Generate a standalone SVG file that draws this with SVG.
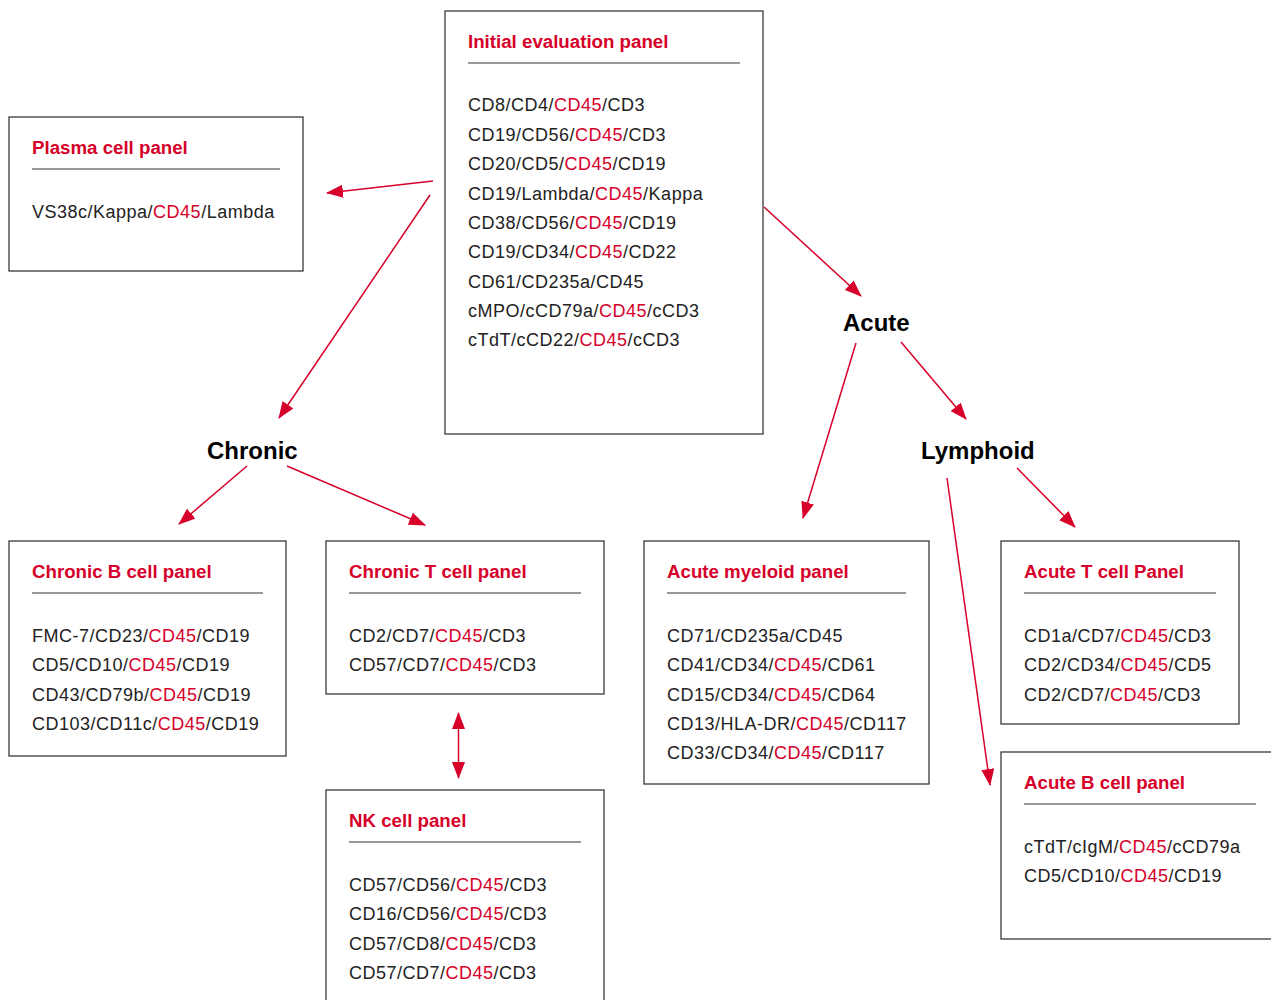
<svg xmlns="http://www.w3.org/2000/svg" width="1271" height="1000" viewBox="0 0 1271 1000">
<style>
.box{fill:#fff;stroke:#3a3a3a;stroke-width:1.3}
.rule{stroke:#333;stroke-width:1.2}
.title{font-family:"Liberation Sans",Arial,sans-serif;font-weight:bold;font-size:18.7px;fill:#d6002a}
.body{font-family:"Liberation Sans",Arial,sans-serif;font-size:18px;letter-spacing:0.5px;fill:#222}
.r{fill:#d6002a}
.hdr{font-family:"Liberation Sans",Arial,sans-serif;font-weight:bold;font-size:24px;fill:#000}
.conn{stroke:#d6002a;stroke-width:1.5;fill:none}
</style>
<defs>
<marker id="ah" markerUnits="userSpaceOnUse" markerWidth="17" markerHeight="13" refX="16" refY="6.5" orient="auto-start-reverse" viewBox="0 0 17 13">
<path d="M0,0 L17,6.5 L0,13 z" fill="#d6002a"/>
</marker>
</defs>
<rect width="1271" height="1000" fill="#fff"/>

<g id="initial">
<rect class="box" x="445" y="11" width="318" height="423"/>
<text class="title" x="468" y="48">Initial evaluation panel</text>
<line class="rule" x1="468" y1="63" x2="740" y2="63"/>
<text class="body" x="468" y="111">CD8/CD4/<tspan class="r">CD45</tspan>/CD3</text>
<text class="body" x="468" y="140.5">CD19/CD56/<tspan class="r">CD45</tspan>/CD3</text>
<text class="body" x="468" y="170">CD20/CD5/<tspan class="r">CD45</tspan>/CD19</text>
<text class="body" x="468" y="199.5">CD19/Lambda/<tspan class="r">CD45</tspan>/Kappa</text>
<text class="body" x="468" y="229">CD38/CD56/<tspan class="r">CD45</tspan>/CD19</text>
<text class="body" x="468" y="258">CD19/CD34/<tspan class="r">CD45</tspan>/CD22</text>
<text class="body" x="468" y="287.5">CD61/CD235a/CD45</text>
<text class="body" x="468" y="317">cMPO/cCD79a/<tspan class="r">CD45</tspan>/cCD3</text>
<text class="body" x="468" y="346">cTdT/cCD22/<tspan class="r">CD45</tspan>/cCD3</text>
</g>

<g id="plasma">
<rect class="box" x="9" y="117" width="294" height="154"/>
<text class="title" x="32" y="154">Plasma cell panel</text>
<line class="rule" x1="32" y1="169" x2="280" y2="169"/>
<text class="body" x="32" y="218">VS38c/Kappa/<tspan class="r">CD45</tspan>/Lambda</text>
</g>

<g id="chronic-label"><text class="hdr" x="207" y="459">Chronic</text></g>
<g id="acute-label"><text class="hdr" x="843" y="331">Acute</text></g>
<g id="lymphoid-label"><text class="hdr" x="921" y="459">Lymphoid</text></g>

<g id="chronic-b">
<rect class="box" x="9" y="541" width="277" height="215"/>
<text class="title" x="32" y="578">Chronic B cell panel</text>
<line class="rule" x1="32" y1="593" x2="263" y2="593"/>
<text class="body" x="32" y="642">FMC-7/CD23/<tspan class="r">CD45</tspan>/CD19</text>
<text class="body" x="32" y="671">CD5/CD10/<tspan class="r">CD45</tspan>/CD19</text>
<text class="body" x="32" y="701">CD43/CD79b/<tspan class="r">CD45</tspan>/CD19</text>
<text class="body" x="32" y="730">CD103/CD11c/<tspan class="r">CD45</tspan>/CD19</text>
</g>

<g id="chronic-t">
<rect class="box" x="326" y="541" width="278" height="153"/>
<text class="title" x="349" y="578">Chronic T cell panel</text>
<line class="rule" x1="349" y1="593" x2="581" y2="593"/>
<text class="body" x="349" y="642">CD2/CD7/<tspan class="r">CD45</tspan>/CD3</text>
<text class="body" x="349" y="671">CD57/CD7/<tspan class="r">CD45</tspan>/CD3</text>
</g>

<g id="nk">
<rect class="box" x="326" y="790" width="278" height="230"/>
<text class="title" x="349" y="827">NK cell panel</text>
<line class="rule" x1="349" y1="842" x2="581" y2="842"/>
<text class="body" x="349" y="891">CD57/CD56/<tspan class="r">CD45</tspan>/CD3</text>
<text class="body" x="349" y="920">CD16/CD56/<tspan class="r">CD45</tspan>/CD3</text>
<text class="body" x="349" y="950">CD57/CD8/<tspan class="r">CD45</tspan>/CD3</text>
<text class="body" x="349" y="979">CD57/CD7/<tspan class="r">CD45</tspan>/CD3</text>
</g>

<g id="acute-myeloid">
<rect class="box" x="644" y="541" width="285" height="243"/>
<text class="title" x="667" y="578">Acute myeloid panel</text>
<line class="rule" x1="667" y1="593" x2="906" y2="593"/>
<text class="body" x="667" y="642">CD71/CD235a/CD45</text>
<text class="body" x="667" y="671">CD41/CD34/<tspan class="r">CD45</tspan>/CD61</text>
<text class="body" x="667" y="701">CD15/CD34/<tspan class="r">CD45</tspan>/CD64</text>
<text class="body" x="667" y="730">CD13/HLA-DR/<tspan class="r">CD45</tspan>/CD117</text>
<text class="body" x="667" y="759">CD33/CD34/<tspan class="r">CD45</tspan>/CD117</text>
</g>

<g id="acute-t">
<rect class="box" x="1001" y="541" width="238" height="183"/>
<text class="title" x="1024" y="578">Acute T cell Panel</text>
<line class="rule" x1="1024" y1="593" x2="1216" y2="593"/>
<text class="body" x="1024" y="642">CD1a/CD7/<tspan class="r">CD45</tspan>/CD3</text>
<text class="body" x="1024" y="671">CD2/CD34/<tspan class="r">CD45</tspan>/CD5</text>
<text class="body" x="1024" y="701">CD2/CD7/<tspan class="r">CD45</tspan>/CD3</text>
</g>

<g id="acute-b">
<rect class="box" x="1001" y="752" width="280" height="187"/>
<text class="title" x="1024" y="789">Acute B cell panel</text>
<line class="rule" x1="1024" y1="804" x2="1256" y2="804"/>
<text class="body" x="1024" y="853">cTdT/cIgM/<tspan class="r">CD45</tspan>/cCD79a</text>
<text class="body" x="1024" y="882">CD5/CD10/<tspan class="r">CD45</tspan>/CD19</text>
</g>

<g id="connectors">
<line class="conn" x1="433" y1="181" x2="327" y2="193" marker-end="url(#ah)"/>
<line class="conn" x1="430" y1="195" x2="279" y2="418" marker-end="url(#ah)"/>
<line class="conn" x1="764" y1="207" x2="861" y2="296" marker-end="url(#ah)"/>
<line class="conn" x1="856" y1="343" x2="803" y2="518" marker-end="url(#ah)"/>
<line class="conn" x1="901" y1="342" x2="966" y2="419" marker-end="url(#ah)"/>
<line class="conn" x1="247" y1="466" x2="179" y2="524" marker-end="url(#ah)"/>
<line class="conn" x1="287" y1="466" x2="425" y2="525" marker-end="url(#ah)"/>
<line class="conn" x1="1017" y1="468" x2="1075" y2="527" marker-end="url(#ah)"/>
<line class="conn" x1="947" y1="478" x2="990" y2="785" marker-end="url(#ah)"/>
<line class="conn" x1="458.5" y1="713" x2="458.5" y2="778" marker-start="url(#ah)" marker-end="url(#ah)"/>
</g>
</svg>
